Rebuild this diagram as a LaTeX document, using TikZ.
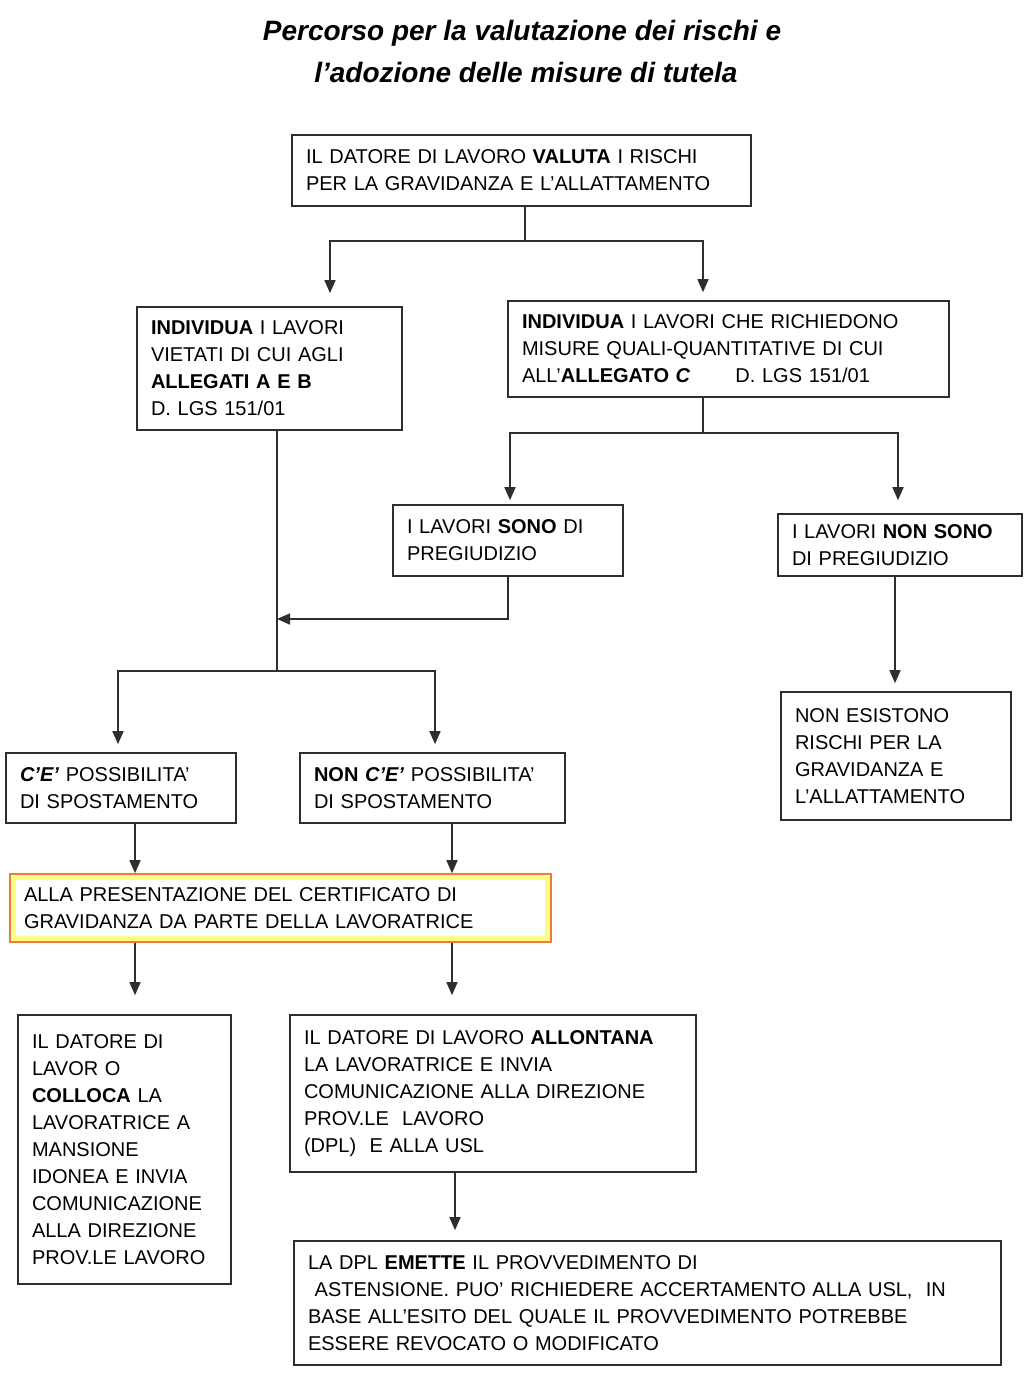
\documentclass[tikz,border=0pt]{standalone}
\usepackage{fontspec}
\setmainfont{Liberation Sans}
\usetikzlibrary{arrows.meta}
\definecolor{bordo}{HTML}{2E2E2E}
\definecolor{arancio}{HTML}{EE7B3C}
\definecolor{giallo}{HTML}{FFFF88}

\begin{document}
\begin{tikzpicture}[x=1pt, y=-1pt,
  box/.style={draw=bordo, line width=1.6pt, rectangle, fill=white, inner xsep=14pt, inner ysep=0pt, align=left, font=\fontsize{20}{27}\selectfont},
  freccia/.style={draw=bordo, line width=1.6pt, -{Triangle[length=13pt,width=11pt]}},
  linea/.style={draw=bordo, line width=1.6pt}]

\useasboundingbox (0,0) rectangle (1024,1381);

\node (titolo) at (522,51) [font=\fontsize{28}{42}\selectfont\bfseries\itshape, align=center] {Percorso per la valutazione dei rischi e\\ \ l'adozione delle misure di tutela};

\node[box, text width=431pt, minimum height=71pt] (dvr) at (521.5,170.5) {IL DATORE DI LAVORO \textbf{VALUTA} I RISCHI\\ PER LA GRAVIDANZA E L'ALLATTAMENTO};
\node[box, text width=237pt, minimum height=123pt] (vietati) at (269.5,368.5) {\textbf{INDIVIDUA} I LAVORI\\ VIETATI DI CUI AGLI\\ \textbf{ALLEGATI A E B}\\ D. LGS 151/01};
\node[box, text width=413pt, minimum height=96pt] (quali) at (728.5,349) {\textbf{INDIVIDUA} I LAVORI CHE RICHIEDONO\\ MISURE QUALI-QUANTITATIVE DI CUI\\ ALL'\textbf{ALLEGATO \textit{C}}\hspace{45pt}D. LGS 151/01};
\node[box, text width=202pt, minimum height=71pt] (sono) at (508,540.5) {I LAVORI \textbf{SONO} DI\\ PREGIUDIZIO};
\node[box, text width=216pt, minimum height=62pt] (nonsono) at (900,545) {I LAVORI \textbf{NON SONO}\\ DI PREGIUDIZIO};
\node[box, text width=202pt, minimum height=128pt] (nonesist) at (896,756) {NON ESISTONO\\ RISCHI PER LA\\ GRAVIDANZA E\\ L'ALLATTAMENTO};
\node[box, text width=202pt, minimum height=70pt] (spost) at (121,788) {\textbf{\textit{C'E'}} POSSIBILITA'\\ DI SPOSTAMENTO};
\node[box, text width=237pt, minimum height=70pt] (nonspost) at (432.5,788) {\textbf{NON \textit{C'E'}} POSSIBILITA'\\ DI SPOSTAMENTO};
\node[box, draw=arancio, fill=giallo, text width=513pt, minimum height=68pt,
  path picture={\fill[white] ([shift={(6pt,-6pt)}]path picture bounding box.north west) rectangle ([shift={(-6pt,6pt)}]path picture bounding box.south east);}] (cert) at (280.5,908) {ALLA PRESENTAZIONE DEL CERTIFICATO DI\\ GRAVIDANZA DA PARTE DELLA LAVORATRICE};
\node[box, text width=185pt, minimum height=269pt] (colloca) at (124.5,1149.5) {IL DATORE DI\\ LAVOR O\\ \textbf{COLLOCA} LA\\ LAVORATRICE A\\ MANSIONE\\ IDONEA E INVIA\\ COMUNICAZIONE\\ ALLA DIREZIONE\\ PROV.LE LAVORO};
\node[box, text width=378pt, minimum height=157pt] (allontana) at (493,1093.5) {IL DATORE DI LAVORO \textbf{ALLONTANA}\\ LA LAVORATRICE E INVIA\\ COMUNICAZIONE ALLA DIREZIONE\\ PROV.LE\ \ LAVORO\\ (DPL)\ \ E ALLA USL};
\node[box, text width=679pt, minimum height=124pt] (emette) at (647.5,1303) {LA DPL \textbf{EMETTE} IL PROVVEDIMENTO DI\\ \ ASTENSIONE. PUO' RICHIEDERE ACCERTAMENTO ALLA USL,\ \ IN\\ BASE ALL'ESITO DEL QUALE IL PROVVEDIMENTO POTREBBE\\ ESSERE REVOCATO O MODIFICATO};

% valutazione -> due rami
\draw[linea] ([xshift=3.5pt]dvr.south) -- ++(0,34) coordinate (nodo1);
\draw[freccia, shorten >=13pt] (nodo1) -| ([xshift=60.5pt]vietati.north);
\draw[freccia, shorten >=8pt] (nodo1) -| ([xshift=-25.5pt]quali.north);

% allegato C
\draw[linea] ([xshift=-25.5pt]quali.south) -- ++(0,35) coordinate (nodo2);
\draw[freccia, shorten >=4pt] (nodo2) -| ([xshift=2pt]sono.north);
\draw[freccia, shorten >=13pt] (nodo2) -| ([xshift=-2pt]nonsono.north);
\draw[freccia, shorten >=8pt] ([xshift=-5pt]nonsono.south) -- ([xshift=-1pt]nonesist.north);

% lavori vietati o di pregiudizio
\draw[linea] ([xshift=7.5pt]vietati.south) -- ++(0,240) coordinate (nodo4);
\coordinate (nodo3) at (277,619);
\draw[freccia] (sono.south) |- (nodo3);
\draw[freccia, shorten >=8pt] (nodo4) -| ([xshift=-3pt]spost.north);
\draw[freccia, shorten >=8pt] (nodo4) -| ([xshift=2.5pt]nonspost.north);

% certificato
\draw[freccia] ([xshift=14pt]spost.south) -- ([xshift=-145.5pt]cert.north);
\draw[freccia] ([xshift=19.5pt]nonspost.south) -- ([xshift=171.5pt]cert.north);
\draw[freccia, shorten >=19pt] ([xshift=-145.5pt]cert.south) -- ([xshift=10.5pt]colloca.north);
\draw[freccia, shorten >=19pt] ([xshift=171.5pt]cert.south) -- ([xshift=-41pt]allontana.north);
\draw[freccia, shorten >=10pt] ([xshift=-38pt]allontana.south) -- ([xshift=-192.5pt]emette.north);

\end{tikzpicture}
\end{document}
